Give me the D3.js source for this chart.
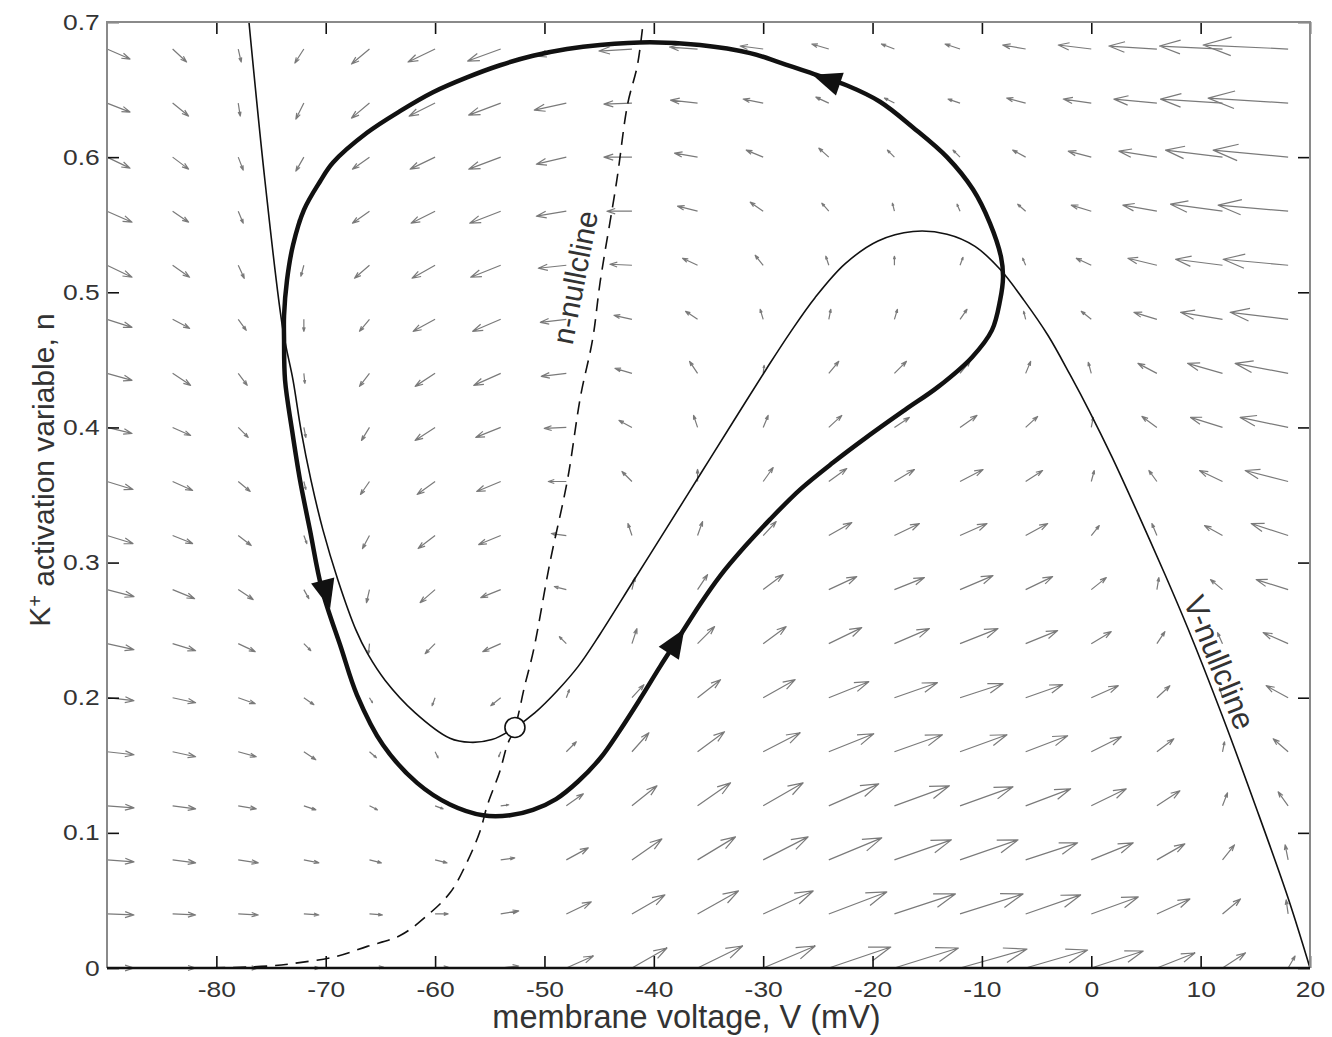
<!DOCTYPE html>
<html>
<head>
<meta charset="utf-8">
<script src="https://cdn.jsdelivr.net/npm/d3@7"></script>
<style>
  body { margin: 0; background: #fff; }
  text { font-family: "Liberation Sans", Arial, Helvetica, sans-serif; fill: #333; }
</style>
</head>
<body>
<svg id="chart" width="1332" height="1037"></svg>
<script>
// ---- phase-plane data -------------------------------------------------

// grid of the direction field: membrane voltage (mV) and K+ activation n
const fieldV = [-90, -84, -78, -72, -66, -60, -54, -48, -42, -36, -30, -24, -18, -12, -6, 0, 6, 12, 18];
const fieldN = [0.68, 0.64, 0.60, 0.56, 0.52, 0.48, 0.44, 0.40, 0.36, 0.32, 0.28, 0.24, 0.20, 0.16, 0.12, 0.08, 0.04, 0];

// direction-field components (relative quiver units), one row per n value
const flowV = [
  [23, 14, 3, -9, -18, -27, -33, -30, -33, -28, -23, -17, -13, -15, -23, -33, -48, -63, -85],
  [23, 16, 2, -8, -18, -26, -32, -32, -28, -27, -20, -13, -10, -12, -19, -28, -43, -62, -80],
  [23, 16, 5, -8, -17, -25, -32, -30, -28, -23, -17, -10, -7, -7, -13, -23, -38, -57, -75],
  [25, 16, 5, -6, -17, -24, -31, -30, -25, -20, -13, -7, -2, -3, -8, -20, -34, -52, -70],
  [25, 17, 6, -3, -15, -23, -30, -28, -22, -15, -8, -3, 0, 3, -3, -15, -29, -47, -65],
  [25, 17, 8, 0, -10, -22, -28, -26, -18, -12, -3, 2, 3, 7, -2, -10, -23, -42, -58],
  [25, 18, 9, 1, -10, -20, -27, -25, -17, -8, 1, 10, 12, 10, 5, -3, -19, -35, -53],
  [25, 18, 10, 2, -8, -20, -25, -22, -13, -4, 5, 13, 15, 17, 12, 2, -15, -32, -48],
  [26, 20, 12, 2, -9, -18, -24, -18, -10, 0, 10, 18, 20, 23, 17, 3, -8, -23, -43],
  [26, 20, 13, 3, -7, -17, -22, -15, -4, 5, 13, 23, 25, 27, 22, 8, -5, -18, -37],
  [27, 22, 15, 5, -3, -15, -20, -12, 3, 10, 20, 28, 30, 33, 27, 15, 2, -12, -32],
  [27, 23, 17, 7, -1, -10, -18, -7, 5, 17, 23, 33, 35, 38, 32, 20, 8, -5, -25],
  [27, 23, 17, 10, 3, -3, -10, 3, 12, 23, 32, 40, 43, 43, 37, 27, 13, -3, -22],
  [27, 23, 18, 12, 7, 3, -2, 10, 17, 27, 37, 45, 48, 47, 42, 30, 17, 2, -15],
  [27, 23, 18, 12, 8, 8, 8, 17, 25, 33, 40, 50, 55, 53, 45, 35, 23, 5, -10],
  [27, 23, 20, 15, 12, 12, 14, 22, 30, 38, 45, 53, 57, 58, 52, 42, 28, 12, -3],
  [27, 23, 20, 15, 13, 13, 18, 25, 33, 41, 50, 58, 61, 63, 55, 47, 33, 18, -2],
  [27, 23, 20, 16, 14, 13, 18, 27, 35, 45, 52, 62, 64, 67, 62, 52, 38, 23, 7]
];
const flowN = [
  [-10, -13, -13, -14, -15, -13, -12, -7, -2, 2, 3, 5, 5, 5, 4, 4, 3, 3, 4],
  [-9, -13, -13, -16, -15, -13, -12, -7, -1, 3, 4, 6, 5, 4, 5, 4, 4, 4, 5],
  [-11, -12, -13, -14, -12, -12, -12, -7, 0, 4, 7, 9, 7, 7, 7, 6, 6, 7, 7],
  [-11, -11, -12, -13, -12, -12, -12, -5, 0, 5, 9, 8, 8, 7, 7, 6, 6, 7, 6],
  [-12, -12, -13, -11, -13, -13, -12, -3, 1, 7, 10, 9, 9, 8, 7, 7, 7, 6, 6],
  [-8, -9, -11, -12, -12, -12, -12, -3, 4, 8, 10, 10, 10, 10, 8, 8, 7, 7, 7],
  [-7, -12, -12, -10, -13, -13, -12, -3, 5, 12, 8, 12, 12, 12, 12, 11, 10, 10, 10],
  [-6, -8, -10, -10, -13, -13, -10, -1, 7, 12, 12, 12, 10, 12, 11, 10, 11, 10, 10],
  [-8, -9, -10, -8, -13, -13, -10, 0, 10, 12, 14, 13, 12, 12, 11, 11, 11, 11, 11],
  [-8, -8, -10, -8, -13, -13, -9, 2, 12, 14, 14, 13, 12, 12, 12, 10, 12, 10, 12],
  [-7, -9, -10, -9, -13, -13, -8, 3, 12, 15, 15, 13, 12, 14, 13, 12, 12, 10, 10],
  [-6, -7, -8, -7, -10, -10, -8, 7, 15, 17, 17, 16, 15, 15, 13, 12, 12, 11, 11],
  [-3, -5, -6, -7, -5, -8, -8, 8, 13, 18, 18, 16, 15, 14, 13, 12, 12, 10, 12],
  [-3, -5, -5, -8, -6, -6, -5, 10, 19, 20, 19, 18, 17, 17, 16, 15, 13, 10, 13],
  [-2, -3, -3, -4, -4, -3, 1, 12, 20, 23, 23, 22, 20, 19, 17, 17, 15, 13, 14],
  [-2, -3, -3, -3, -3, -3, 2, 12, 21, 23, 23, 22, 20, 20, 17, 17, 16, 15, 15],
  [-1, -1, -1, -1, -1, 0, 3, 12, 19, 23, 23, 22, 20, 20, 19, 17, 15, 15, 14],
  [0, 0, 0, 0, 1, 1, 2, 12, 20, 22, 22, 21, 20, 19, 18, 17, 15, 15, 12]
];
// one quiver unit in data units along each axis
const quiverUnitV = 0.0914;   // mV
const quiverUnitN = 0.00074;  // n

// V-nullcline (thin solid line)
const vNullV = [-77.02, -75.55, -73.91, -72.99, -72.26, -71.35, -70.25, -68.88, -67.23, -66.13, -64.58, -61.84,
  -58.64, -56.81, -54.80, -52.69, -50.86, -48.85, -46.93, -44.92, -41.90, -38.79, -35.78, -32.76, -29.65,
  -27.55, -25.26, -22.52, -19.50, -16.30, -13.19, -10.63, -8.34, -6.15, -3.95, -1.94, -0.11, 1.90, 4.28,
  6.75, 8.85, 11.96, 14.97, 17.99, 20.0];
const vNullN = [0.700, 0.582, 0.472, 0.435, 0.398, 0.361, 0.324, 0.287, 0.250, 0.232, 0.213, 0.189,
  0.170, 0.167, 0.169, 0.178, 0.189, 0.205, 0.223, 0.247, 0.286, 0.326, 0.365, 0.404, 0.444,
  0.470, 0.496, 0.521, 0.538, 0.545, 0.543, 0.534, 0.517, 0.494, 0.468, 0.439, 0.411, 0.378, 0.336,
  0.291, 0.251, 0.187, 0.121, 0.052, 0.000];

// n-nullcline (dashed line)
const nNullV = [-90, -81.5, -75.1, -72.4, -69.3, -66.2, -63.2, -60.7, -58.6, -57.1, -55.9, -55.2, -54.1, -53.4,
  -52.7, -51.8, -51.0, -49.5, -47.9, -46.7, -45.6, -44.9, -43.4, -42.4, -41.5, -41.0];
const nNullN = [0.000, 0.000, 0.0015, 0.004, 0.008, 0.016, 0.024, 0.039, 0.056, 0.078, 0.101, 0.121, 0.145, 0.165,
  0.178, 0.209, 0.235, 0.300, 0.361, 0.423, 0.465, 0.508, 0.582, 0.639, 0.668, 0.698];

// limit cycle (thick line), listed in the direction of the flow
const cycleV = [-40.35, -44.92, -47.94, -51.05, -54.06, -57.08, -60.19, -63.21, -66.23, -69.33, -70.52, -71.99,
  -72.99, -73.54, -73.81, -73.81, -73.72, -73.08, -72.35, -71.44, -70.34, -68.60, -67.14, -64.76, -61.65,
  -58.64, -55.62, -53.15, -51.05, -48.94, -46.93, -44.92, -43.09, -41.26, -39.43, -37.60, -35.78, -33.95,
  -31.66, -29.37, -26.63, -23.61, -20.50, -17.03, -14.01, -10.90, -9.08, -8.34, -8.07, -8.25, -9.26, -10.81,
  -13.19, -16.30, -19.32, -22.33, -25.53, -28.46, -31.20, -35.78];
const cycleN = [0.685, 0.683, 0.680, 0.675, 0.668, 0.659, 0.648, 0.634, 0.618, 0.596, 0.582, 0.561,
  0.535, 0.509, 0.483, 0.465, 0.435, 0.398, 0.361, 0.324, 0.280, 0.237, 0.202, 0.165, 0.137,
  0.121, 0.113, 0.113, 0.117, 0.125, 0.138, 0.155, 0.176, 0.199, 0.223, 0.246, 0.269, 0.290,
  0.312, 0.332, 0.354, 0.374, 0.393, 0.413, 0.430, 0.452, 0.472, 0.494, 0.511, 0.526, 0.551, 0.576,
  0.600, 0.622, 0.641, 0.653, 0.662, 0.670, 0.677, 0.683];

// direction markers on the limit cycle (tip positions)
const cycleArrowV = [-25.5, -69.6, -37.2];
const cycleArrowN = [0.661, 0.266, 0.251];

// unstable equilibrium
const restV = -52.7;
const restN = 0.178;

const xTicks = [-80, -70, -60, -50, -40, -30, -20, -10, 0, 10, 20];
const yTicks = [0, 0.1, 0.2, 0.3, 0.4, 0.5, 0.6, 0.7];
const xTitle = "membrane voltage, V (mV)";

// ---- drawing ---------------------------------------------------------

const svg = d3.select("#chart");
const plot = { left: 107, right: 1310, top: 22, bottom: 968 };

const x = d3.scaleLinear().domain([-90, 20]).range([plot.left, plot.right]);
const y = d3.scaleLinear().domain([0, 0.7]).range([plot.bottom, plot.top]);

svg.append("defs").append("clipPath").attr("id", "plot-clip")
  .append("rect")
  .attr("x", plot.left).attr("y", plot.top)
  .attr("width", plot.right - plot.left).attr("height", plot.bottom - plot.top);

// direction field (quiver-style arrows with open heads)
const arrows = [];
fieldN.forEach((n, r) => {
  fieldV.forEach((v, c) => {
    arrows.push({ v, n, dv: flowV[r][c] * quiverUnitV, dn: flowN[r][c] * quiverUnitN });
  });
});
const alpha = 0.33, beta = 0.33;
svg.append("g").attr("class", "field")
  .selectAll("path").data(arrows).join("path")
  .attr("d", a => {
    const x0 = x(a.v), y0 = y(a.n);
    const x1 = x(a.v + a.dv), y1 = y(a.n + a.dn);
    const dx = x1 - x0, dy = y1 - y0;
    const h1x = x1 - alpha * (dx + beta * dy), h1y = y1 - alpha * (dy - beta * dx);
    const h2x = x1 - alpha * (dx - beta * dy), h2y = y1 - alpha * (dy + beta * dx);
    return `M${x0},${y0}L${x1},${y1}M${h1x},${h1y}L${x1},${y1}L${h2x},${h2y}`;
  })
  .attr("fill", "none")
  .attr("stroke", "#7a7a7a")
  .attr("stroke-width", 1.2)
  .attr("stroke-linejoin", "round");

const curves = svg.append("g").attr("clip-path", "url(#plot-clip)");

// n-nullcline
curves.append("path")
  .datum(d3.zip(nNullV, nNullN))
  .attr("d", d3.line().x(d => x(d[0])).y(d => y(d[1])).curve(d3.curveCatmullRom))
  .attr("fill", "none").attr("stroke", "#111").attr("stroke-width", 1.6)
  .attr("stroke-dasharray", "13,8");

// V-nullcline
curves.append("path")
  .datum(d3.zip(vNullV, vNullN))
  .attr("d", d3.line().x(d => x(d[0])).y(d => y(d[1])).curve(d3.curveCatmullRom))
  .attr("fill", "none").attr("stroke", "#111").attr("stroke-width", 1.6);

// limit cycle
const cyclePts = d3.zip(cycleV, cycleN);
curves.append("path")
  .datum(cyclePts)
  .attr("d", d3.line().x(d => x(d[0])).y(d => y(d[1])).curve(d3.curveCatmullRomClosed))
  .attr("fill", "none").attr("stroke", "#111").attr("stroke-width", 4.5)
  .attr("stroke-linejoin", "round");

// filled arrowheads showing the direction of motion along the cycle
const headLen = 29, headHalf = 12;
const screenCycle = cyclePts.map(p => [x(p[0]), y(p[1])]);
svg.append("g").selectAll("path")
  .data(d3.zip(cycleArrowV, cycleArrowN))
  .join("path")
  .attr("d", t => {
    const tx = x(t[0]), ty = y(t[1]);
    let best = 0, bestD = Infinity;
    screenCycle.forEach((p, i) => {
      const d = (p[0] - tx) ** 2 + (p[1] - ty) ** 2;
      if (d < bestD) { bestD = d; best = i; }
    });
    const m = screenCycle.length;
    const a = screenCycle[(best - 1 + m) % m], b = screenCycle[(best + 1) % m];
    let ux = b[0] - a[0], uy = b[1] - a[1];
    const L = Math.hypot(ux, uy); ux /= L; uy /= L;
    const bx = tx - headLen * ux, by = ty - headLen * uy;
    return `M${tx},${ty}L${bx - headHalf * uy},${by + headHalf * ux}L${bx + headHalf * uy},${by - headHalf * ux}Z`;
  })
  .attr("fill", "#111");

// equilibrium
svg.append("circle")
  .attr("cx", x(restV)).attr("cy", y(restN)).attr("r", 10)
  .attr("fill", "#fff").attr("stroke", "#111").attr("stroke-width", 1.6);

// curve labels
svg.append("text")
  .attr("transform", `translate(${x(-47.2)},${y(0.511)}) rotate(-79)`)
  .attr("text-anchor", "middle").attr("dominant-baseline", "central")
  .style("font-size", "30px")
  .text("n-nullcline");
svg.append("text")
  .attr("transform", `translate(${x(11.7)},${y(0.226)}) rotate(68)`)
  .attr("text-anchor", "middle").attr("dominant-baseline", "central")
  .style("font-size", "31px")
  .text("V-nullcline");

// axes: inward ticks on all four sides
function styleAxis(g) {
  g.select(".domain").remove();
  g.selectAll(".tick line").attr("stroke", "#111").attr("stroke-width", 1.6);
  g.selectAll(".tick text").style("font-size", "22px").attr("fill", "#333");
}
const fmt = d => String(d);

svg.append("g").attr("transform", `translate(0,${plot.bottom})`)
  .call(d3.axisBottom(x).tickValues(xTicks).tickFormat(fmt).tickSizeInner(-12).tickSizeOuter(0).tickPadding(13))
  .call(styleAxis)
  .call(g => g.selectAll(".tick text").attr("transform", "scale(1.2,1)"));

svg.append("g").attr("transform", `translate(0,${plot.top})`)
  .call(d3.axisTop(x).tickValues(xTicks).tickFormat("").tickSizeInner(-12).tickSizeOuter(0))
  .call(styleAxis);

svg.append("g").attr("transform", `translate(${plot.left},0)`)
  .call(d3.axisLeft(y).tickValues(yTicks).tickFormat(fmt).tickSizeInner(-12).tickSizeOuter(0).tickPadding(6))
  .call(styleAxis)
  .call(g => g.selectAll(".tick text").attr("x", -6).attr("transform", "scale(1.2,1)"));

svg.append("g").attr("transform", `translate(${plot.right},0)`)
  .call(d3.axisRight(y).tickValues(yTicks).tickFormat("").tickSizeInner(-12).tickSizeOuter(0))
  .call(styleAxis);

// frame
svg.append("path")
  .attr("d", `M${plot.left},${plot.bottom}V${plot.top}H${plot.right}V${plot.bottom}`)
  .attr("fill", "none").attr("stroke", "#8a8a8a").attr("stroke-width", 2);
svg.append("line")
  .attr("x1", plot.left).attr("x2", plot.right).attr("y1", plot.bottom).attr("y2", plot.bottom)
  .attr("stroke", "#111").attr("stroke-width", 2.5);

// axis titles
svg.append("text")
  .attr("x", (plot.left + plot.right) / 2 - 22).attr("y", 1028)
  .attr("text-anchor", "middle").style("font-size", "32.5px")
  .text(xTitle);

const yTitle = svg.append("text")
  .attr("transform", "translate(50,470) rotate(-90)")
  .attr("text-anchor", "middle").style("font-size", "30px");
yTitle.append("tspan").text("K");
yTitle.append("tspan").attr("dy", "-0.4em").style("font-size", "20px").text("+");
yTitle.append("tspan").attr("dy", "0.4em").text(" activation variable, n");
</script>
</body>
</html>
